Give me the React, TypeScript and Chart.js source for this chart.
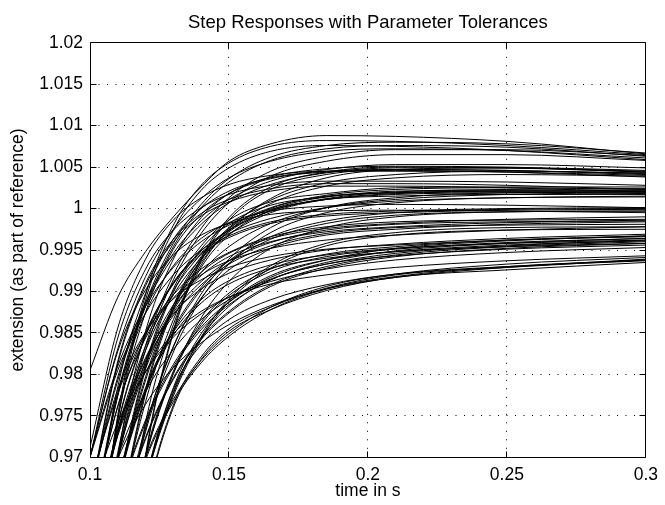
import React, { useEffect, useRef } from 'react';
import { Chart, registerables } from 'chart.js';

Chart.register(...registerables);

const chartTitle = 'Step Responses with Parameter Tolerances';
const xAxisLabel = 'time in s';
const yAxisLabel = 'extension (as part of reference)';

const xTickValues = [0.1, 0.15, 0.2, 0.25, 0.3];
const xTickLabels = ['0.1', '0.15', '0.2', '0.25', '0.3'];
const yTickValues = [0.97, 0.975, 0.98, 0.985, 0.99, 0.995, 1.0, 1.005, 1.01, 1.015, 1.02];
const yTickLabels = ['0.97', '0.975', '0.98', '0.985', '0.99', '0.995', '1', '1.005', '1.01', '1.015', '1.02'];

// sample times (s)
const times = [0.1, 0.11, 0.12, 0.13, 0.14, 0.15, 0.165, 0.185, 0.21, 0.25, 0.3];

// responses settling near 1.006
const groupA = [
  [0.9805, 0.9893, 0.9948, 0.999, 1.0026, 1.0057, 1.0078, 1.0088, 1.0087, 1.0081, 1.0066],
  [0.961, 0.9774, 0.9882, 0.9954, 1.0001, 1.0032, 1.0058, 1.0072, 1.0076, 1.0074, 1.0063],
  [0.97, 0.9831, 0.9918, 0.9975, 1.0012, 1.0037, 1.0057, 1.0069, 1.0072, 1.007, 1.0061],
  [0.9503, 0.97, 0.9829, 0.9914, 0.997, 1.0007, 1.0039, 1.0057, 1.0065, 1.0065, 1.0058],
  [0.9498, 0.9751, 0.9896, 0.998, 1.0028, 1.0055, 1.0075, 1.0082, 1.0081, 1.0076, 1.0065],
  [0.9614, 0.9778, 0.9886, 0.9958, 1.0005, 1.0036, 1.0062, 1.0076, 1.008, 1.0078, 1.0067],
  [0.9492, 0.9745, 0.989, 0.9974, 1.0022, 1.0049, 1.0069, 1.0076, 1.0075, 1.007, 1.0059],
  [0.9509, 0.9706, 0.9835, 0.992, 0.9976, 1.0013, 1.0045, 1.0063, 1.0071, 1.0071, 1.0064],
];

// responses settling near 1.004
const groupB = [
  [0.9661, 0.9797, 0.9887, 0.9946, 0.9985, 1.0011, 1.0033, 1.0047, 1.0053, 1.0053, 1.0049],
  [0.9437, 0.97, 0.9852, 0.9939, 0.9989, 1.0018, 1.0038, 1.0048, 1.0051, 1.005, 1.0046],
  [0.9389, 0.9618, 0.9767, 0.9866, 0.9932, 0.9975, 1.0012, 1.0037, 1.0047, 1.0049, 1.0044],
  [0.9588, 0.9785, 0.9898, 0.9963, 1.0, 1.0021, 1.0037, 1.0045, 1.0047, 1.0046, 1.0042],
  [0.898, 0.9439, 0.97, 0.985, 0.9937, 0.9986, 1.0023, 1.0041, 1.0047, 1.0046, 1.0041],
  [0.9463, 0.9662, 0.9793, 0.9879, 0.9935, 0.9973, 1.0006, 1.0027, 1.0037, 1.0041, 1.0039],
  [0.9519, 0.9746, 0.9875, 0.9951, 0.9993, 1.0018, 1.0036, 1.0044, 1.0046, 1.0044, 1.0038],
  [0.9657, 0.9793, 0.9883, 0.9942, 0.9981, 1.0007, 1.0029, 1.0043, 1.0049, 1.0049, 1.0045],
  [0.8983, 0.9442, 0.9703, 0.9853, 0.994, 0.9989, 1.0026, 1.0044, 1.005, 1.0049, 1.0044],
  [0.9712, 0.9856, 0.9939, 0.9986, 1.0013, 1.0029, 1.004, 1.0045, 1.0045, 1.0044, 1.004],
  [0.9467, 0.9666, 0.9797, 0.9883, 0.9939, 0.9977, 1.001, 1.0031, 1.0041, 1.0045, 1.0043],
];

// responses settling near 1.002
const groupC = [
  [0.97, 0.9844, 0.9927, 0.9974, 1.0001, 1.0017, 1.0028, 1.0033, 1.0033, 1.0032, 1.0028],
  [0.9374, 0.9651, 0.9811, 0.9903, 0.9955, 0.9986, 1.0008, 1.0018, 1.0025, 1.0026, 1.0026],
  [0.9625, 0.9761, 0.9851, 0.991, 0.9949, 0.9974, 0.9997, 1.0012, 1.002, 1.0023, 1.0024],
  [0.9579, 0.9733, 0.9834, 0.9901, 0.9945, 0.9974, 1.0, 1.0016, 1.0023, 1.0025, 1.0023],
  [0.9172, 0.9534, 0.9742, 0.986, 0.9929, 0.9968, 0.9998, 1.0014, 1.0019, 1.0021, 1.0021],
  [0.9651, 0.9813, 0.9907, 0.996, 0.9991, 1.0008, 1.0021, 1.0027, 1.0027, 1.0025, 1.002],
  [0.9537, 0.97, 0.9807, 0.9877, 0.9923, 0.9954, 0.9982, 1.0001, 1.0011, 1.0017, 1.0019],
  [0.9288, 0.9599, 0.9777, 0.9879, 0.9938, 0.9972, 0.9997, 1.0011, 1.0015, 1.0017, 1.0017],
  [0.97, 0.9805, 0.9874, 0.992, 0.995, 0.997, 0.9988, 1.0001, 1.0009, 1.0013, 1.0015],
  [0.9363, 0.9585, 0.9731, 0.9827, 0.9891, 0.9933, 0.9971, 0.9995, 1.0007, 1.0013, 1.0014],
  [0.937, 0.9647, 0.9807, 0.9899, 0.9951, 0.9982, 1.0004, 1.0014, 1.0021, 1.0022, 1.0022],
  [0.9574, 0.9728, 0.9829, 0.9896, 0.994, 0.9969, 0.9995, 1.0011, 1.0018, 1.002, 1.0018],
  [0.9654, 0.9816, 0.991, 0.9963, 0.9994, 1.0011, 1.0024, 1.003, 1.003, 1.0028, 1.0023],
  [0.9292, 0.9603, 0.9781, 0.9883, 0.9942, 0.9976, 1.0001, 1.0015, 1.0019, 1.0021, 1.0021],
  [0.9369, 0.9591, 0.9737, 0.9833, 0.9897, 0.9939, 0.9977, 1.0001, 1.0013, 1.0019, 1.002],
  [0.9702, 0.981, 0.9882, 0.9929, 0.996, 0.998, 0.9999, 1.0011, 1.0017, 1.0019, 1.002],
];

// responses settling near 1.000
const groupD = [
  [0.9601, 0.9775, 0.9874, 0.9931, 0.9964, 0.9983, 0.9997, 1.0003, 1.0005, 1.0004, 1.0001],
  [0.9494, 0.9667, 0.9781, 0.9855, 0.9905, 0.9937, 0.9966, 0.9985, 0.9995, 0.9999, 1.0],
  [0.9549, 0.9738, 0.9846, 0.9909, 0.9945, 0.9965, 0.9982, 0.9991, 0.9995, 0.9998, 0.9999],
  [0.9314, 0.9546, 0.97, 0.9801, 0.9868, 0.9912, 0.9952, 0.9977, 0.999, 0.9996, 0.9997],
  [0.97, 0.9828, 0.9902, 0.9944, 0.9968, 0.9982, 0.9993, 0.9997, 0.9998, 0.9997, 0.9995],
  [0.9491, 0.9664, 0.9778, 0.9852, 0.9902, 0.9934, 0.9963, 0.9982, 0.9992, 0.9996, 0.9997],
  [0.9551, 0.974, 0.9848, 0.9911, 0.9947, 0.9967, 0.9984, 0.9993, 0.9997, 1.0, 1.0001],
];

// responses settling near 0.998
const groupE = [
  [0.9499, 0.97, 0.9816, 0.9884, 0.9923, 0.9946, 0.9964, 0.9976, 0.9982, 0.9987, 0.999],
  [0.9669, 0.9777, 0.9849, 0.9896, 0.9927, 0.9947, 0.9966, 0.9978, 0.9984, 0.9986, 0.9987],
  [0.9262, 0.9562, 0.9734, 0.9834, 0.9892, 0.9926, 0.9952, 0.9968, 0.9975, 0.9981, 0.9984],
  [0.9597, 0.9728, 0.9814, 0.9871, 0.9908, 0.9933, 0.9955, 0.997, 0.9977, 0.998, 0.9981],
  [0.9619, 0.9762, 0.9844, 0.9892, 0.992, 0.9937, 0.9952, 0.9962, 0.9968, 0.9974, 0.9978],
  [0.9274, 0.9511, 0.967, 0.9774, 0.9842, 0.9888, 0.9928, 0.9955, 0.9968, 0.9974, 0.9975],
  [0.9601, 0.9732, 0.9818, 0.9875, 0.9912, 0.9937, 0.9959, 0.9974, 0.9981, 0.9984, 0.9985],
  [0.9277, 0.9514, 0.9673, 0.9777, 0.9845, 0.9891, 0.9931, 0.9958, 0.9971, 0.9977, 0.9978],
  [0.9495, 0.9696, 0.9812, 0.988, 0.9919, 0.9942, 0.996, 0.9972, 0.9978, 0.9983, 0.9986],
];

// responses settling near 0.996
const groupF = [
  [0.9578, 0.9732, 0.982, 0.9873, 0.9903, 0.9922, 0.9938, 0.995, 0.9957, 0.9964, 0.9969],
  [0.9493, 0.9645, 0.9745, 0.9812, 0.9857, 0.9887, 0.9917, 0.9938, 0.9952, 0.9961, 0.9967],
  [0.9663, 0.9782, 0.9851, 0.9891, 0.9914, 0.9929, 0.9942, 0.9951, 0.9956, 0.9962, 0.9966],
  [0.9221, 0.9526, 0.97, 0.9801, 0.986, 0.9895, 0.9924, 0.9942, 0.9951, 0.9959, 0.9964],
  [0.9583, 0.97, 0.9779, 0.983, 0.9866, 0.989, 0.9915, 0.9933, 0.9946, 0.9955, 0.9962],
  [0.9452, 0.9615, 0.9724, 0.9796, 0.9844, 0.9876, 0.9908, 0.993, 0.9944, 0.9954, 0.996],
  [0.9466, 0.9665, 0.978, 0.9847, 0.9886, 0.9909, 0.9928, 0.994, 0.9948, 0.9954, 0.9958],
  [0.9136, 0.9473, 0.9666, 0.9779, 0.9844, 0.9882, 0.9914, 0.9933, 0.9943, 0.9951, 0.9956],
  [0.9649, 0.9742, 0.9803, 0.9845, 0.9873, 0.9893, 0.9912, 0.9927, 0.9938, 0.9947, 0.9953],
  [0.949, 0.9642, 0.9742, 0.9809, 0.9854, 0.9884, 0.9914, 0.9935, 0.9949, 0.9958, 0.9964],
  [0.9224, 0.9529, 0.9703, 0.9804, 0.9863, 0.9898, 0.9927, 0.9945, 0.9954, 0.9962, 0.9967],
  [0.945, 0.9613, 0.9722, 0.9794, 0.9842, 0.9874, 0.9906, 0.9928, 0.9942, 0.9952, 0.9958],
  [0.947, 0.9669, 0.9784, 0.9851, 0.989, 0.9913, 0.9932, 0.9944, 0.9952, 0.9958, 0.9962],
  [0.9141, 0.9478, 0.9671, 0.9784, 0.9849, 0.9887, 0.9919, 0.9938, 0.9948, 0.9956, 0.9961],
];

// responses settling near 0.994
const groupG = [
  [0.905, 0.942, 0.964, 0.976, 0.9818, 0.9852, 0.9878, 0.9901, 0.9917, 0.9926, 0.9935],
  [0.912, 0.947, 0.9668, 0.9782, 0.9836, 0.9866, 0.989, 0.9908, 0.9921, 0.993, 0.9937],
  [0.9599, 0.9698, 0.9764, 0.9808, 0.9838, 0.986, 0.9883, 0.9903, 0.9917, 0.9929, 0.9939],
  [0.9438, 0.9594, 0.97, 0.977, 0.9817, 0.9849, 0.9881, 0.9906, 0.9921, 0.9933, 0.9941],
  [0.9592, 0.9726, 0.9803, 0.9849, 0.9876, 0.9893, 0.9909, 0.992, 0.9929, 0.9937, 0.9943],
  [0.9053, 0.9423, 0.9643, 0.9763, 0.9821, 0.9855, 0.9881, 0.9904, 0.992, 0.9929, 0.9938],
  [0.9435, 0.9591, 0.9697, 0.9767, 0.9814, 0.9846, 0.9878, 0.9903, 0.9918, 0.993, 0.9938],
];

const FONT_FAMILY = "'Liberation Sans', Arial, Helvetica, sans-serif";
const FONT_SIZE = 17.5;
const TITLE_SIZE = 18.5;

const matlabAxesPlugin = {
  id: 'matlabAxes',
  beforeDatasetsDraw(chart: any) {
    const { ctx, chartArea: a, scales } = chart;
    const x = scales.x;
    const y = scales.y;
    ctx.save();
    ctx.strokeStyle = '#000';
    ctx.lineWidth = 1;
    ctx.setLineDash([1, 7.5]);
    xTickValues.slice(1, -1).forEach((v) => {
      const px = Math.floor(x.getPixelForValue(v)) + 0.5;
      ctx.beginPath();
      ctx.moveTo(px, a.bottom);
      ctx.lineTo(px, a.top);
      ctx.stroke();
    });
    yTickValues.slice(1, -1).forEach((v) => {
      const py = Math.floor(y.getPixelForValue(v)) + 0.5;
      ctx.beginPath();
      ctx.moveTo(a.left, py);
      ctx.lineTo(a.right, py);
      ctx.stroke();
    });
    ctx.restore();
  },
  afterDatasetsDraw(chart: any) {
    const { ctx, chartArea: a, scales } = chart;
    const x = scales.x;
    const y = scales.y;
    const L = Math.floor(a.left) + 0.5;
    const R = Math.floor(a.right) + 0.5;
    const T = Math.floor(a.top) + 0.5;
    const B = Math.floor(a.bottom) + 0.5;
    const tick = 6;
    ctx.save();
    ctx.setLineDash([]);
    ctx.strokeStyle = '#000';
    ctx.lineWidth = 1;
    ctx.beginPath();
    ctx.rect(L, T, R - L, B - T);
    ctx.stroke();
    ctx.beginPath();
    xTickValues.forEach((v) => {
      const px = Math.floor(x.getPixelForValue(v)) + 0.5;
      ctx.moveTo(px, B);
      ctx.lineTo(px, B - tick);
      ctx.moveTo(px, T);
      ctx.lineTo(px, T + tick);
    });
    yTickValues.forEach((v) => {
      const py = Math.floor(y.getPixelForValue(v)) + 0.5;
      ctx.moveTo(L, py);
      ctx.lineTo(L + tick, py);
      ctx.moveTo(R, py);
      ctx.lineTo(R - tick, py);
    });
    ctx.stroke();
    ctx.fillStyle = '#000';
    ctx.font = `${TITLE_SIZE}px ${FONT_FAMILY}`;
    ctx.textAlign = 'center';
    ctx.textBaseline = 'middle';
    ctx.fillText(chartTitle, (a.left + a.right) / 2, 23);
    ctx.restore();
  },
};

export default function App() {
  const canvasRef = useRef<HTMLCanvasElement | null>(null);

  useEffect(() => {
    const canvas = canvasRef.current;
    if (!canvas) return;
    const curves = [...groupA, ...groupB, ...groupC, ...groupD, ...groupE, ...groupF, ...groupG];
    const datasets = curves.map((c, k) => ({
      label: 'response ' + (k + 1),
      data: c.map((v, i) => ({ x: times[i], y: v })),
      borderColor: '#000',
      borderWidth: 1,
      pointRadius: 0,
      fill: false,
      cubicInterpolationMode: 'monotone' as const,
    }));
    const font = { family: FONT_FAMILY, size: FONT_SIZE, weight: 'normal' as const };
    const chart = new Chart(canvas, {
      type: 'line',
      data: { datasets },
      plugins: [matlabAxesPlugin],
      options: {
        animation: false,
        responsive: false,
        devicePixelRatio: 1,
        layout: { padding: { left: 0, right: 14, top: 42.7, bottom: 0 } },
        plugins: {
          legend: { display: false },
          tooltip: { enabled: false },
          title: { display: false },
        },
        scales: {
          x: {
            type: 'linear',
            min: 0.1,
            max: 0.3,
            afterBuildTicks: (s: any) => {
              s.ticks = xTickValues.map((v) => ({ value: v }));
            },
            afterFit: (s: any) => {
              s.height = 47.7;
            },
            ticks: {
              autoSkip: false,
              maxRotation: 0,
              padding: 7,
              color: '#000',
              font,
              callback: (_v: any, i: number) => xTickLabels[i],
            },
            grid: { display: false, drawTicks: false },
            border: { display: false },
            title: {
              display: true,
              text: xAxisLabel,
              color: '#000',
              font,
              padding: { top: 0, bottom: 3.5 },
            },
          },
          y: {
            type: 'linear',
            min: 0.97,
            max: 1.02,
            afterBuildTicks: (s: any) => {
              s.ticks = yTickValues.map((v) => ({ value: v }));
            },
            afterFit: (s: any) => {
              s.width = 90;
            },
            ticks: {
              autoSkip: false,
              padding: 7,
              color: '#000',
              font,
              callback: (_v: any, i: number) => yTickLabels[i],
            },
            grid: { display: false, drawTicks: false },
            border: { display: false },
            title: {
              display: true,
              text: yAxisLabel,
              color: '#000',
              font,
              padding: { top: 7.5, bottom: 0 },
            },
          },
        },
      },
    } as any);
    return () => chart.destroy();
  }, []);

  return (
    <div style={{ position: 'fixed', left: 0, top: 0, width: 665, height: 505, background: '#fff' }}>
      <canvas ref={canvasRef} width={665} height={505} style={{ display: 'block', width: 665, height: 505 }} />
    </div>
  );
}
